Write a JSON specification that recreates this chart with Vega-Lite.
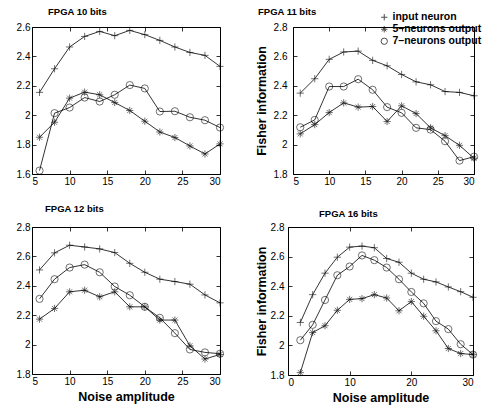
{
"$schema":"https://vega.github.io/schema/vega-lite/v6.json",
"padding":{"left":15,"top":6,"right":4,"bottom":4},
"background":"white",
"config":{
 "view":{"stroke":"black","strokeWidth":1},
 "font":"Liberation Sans",
 "axis":{"domain":false,"grid":false,"minExtent":0,"tickColor":"black","tickSize":-4,"tickWidth":0.8,"labelColor":"black","labelFont":"Liberation Sans","labelFontSize":10,"labelPadding":6,"titleFont":"Liberation Sans","titleFontSize":12.5,"titleFontWeight":"bold","titleColor":"black","titlePadding":4},
 "title":{"font":"Liberation Sans","fontSize":9.5,"fontWeight":"bold","color":"black","anchor":"start","frame":"group","offset":6}
},
"datasets":{"d":[
{"panel":"10","series":"input neuron","x":6,"y":2.155},{"panel":"10","series":"input neuron","x":8,"y":2.316},{"panel":"10","series":"input neuron","x":10,"y":2.464},{"panel":"10","series":"input neuron","x":12,"y":2.536},{"panel":"10","series":"input neuron","x":14,"y":2.57},{"panel":"10","series":"input neuron","x":16,"y":2.541},{"panel":"10","series":"input neuron","x":18,"y":2.577},{"panel":"10","series":"input neuron","x":20,"y":2.548},{"panel":"10","series":"input neuron","x":22,"y":2.509},{"panel":"10","series":"input neuron","x":24,"y":2.464},{"panel":"10","series":"input neuron","x":26,"y":2.427},{"panel":"10","series":"input neuron","x":28,"y":2.407},{"panel":"10","series":"input neuron","x":30,"y":2.332},
{"panel":"10","series":"5–neurons output","x":6,"y":1.85},{"panel":"10","series":"5–neurons output","x":8,"y":1.952},{"panel":"10","series":"5–neurons output","x":10,"y":2.116},{"panel":"10","series":"5–neurons output","x":12,"y":2.157},{"panel":"10","series":"5–neurons output","x":14,"y":2.139},{"panel":"10","series":"5–neurons output","x":16,"y":2.086},{"panel":"10","series":"5–neurons output","x":18,"y":2.032},{"panel":"10","series":"5–neurons output","x":20,"y":1.959},{"panel":"10","series":"5–neurons output","x":22,"y":1.886},{"panel":"10","series":"5–neurons output","x":24,"y":1.848},{"panel":"10","series":"5–neurons output","x":26,"y":1.791},{"panel":"10","series":"5–neurons output","x":28,"y":1.736},{"panel":"10","series":"5–neurons output","x":30,"y":1.805},
{"panel":"10","series":"7–neurons output","x":6,"y":1.623},{"panel":"10","series":"7–neurons output","x":8,"y":2.014},{"panel":"10","series":"7–neurons output","x":10,"y":2.052},{"panel":"10","series":"7–neurons output","x":12,"y":2.12},{"panel":"10","series":"7–neurons output","x":14,"y":2.093},{"panel":"10","series":"7–neurons output","x":16,"y":2.139},{"panel":"10","series":"7–neurons output","x":18,"y":2.205},{"panel":"10","series":"7–neurons output","x":20,"y":2.182},{"panel":"10","series":"7–neurons output","x":22,"y":2.025},{"panel":"10","series":"7–neurons output","x":24,"y":2.027},{"panel":"10","series":"7–neurons output","x":26,"y":1.986},{"panel":"10","series":"7–neurons output","x":28,"y":1.966},{"panel":"10","series":"7–neurons output","x":30,"y":1.916},
{"panel":"11","series":"input neuron","x":6,"y":2.35},{"panel":"11","series":"input neuron","x":8,"y":2.448},{"panel":"11","series":"input neuron","x":10,"y":2.58},{"panel":"11","series":"input neuron","x":12,"y":2.63},{"panel":"11","series":"input neuron","x":14,"y":2.636},{"panel":"11","series":"input neuron","x":16,"y":2.573},{"panel":"11","series":"input neuron","x":18,"y":2.536},{"panel":"11","series":"input neuron","x":20,"y":2.477},{"panel":"11","series":"input neuron","x":22,"y":2.427},{"panel":"11","series":"input neuron","x":24,"y":2.407},{"panel":"11","series":"input neuron","x":26,"y":2.361},{"panel":"11","series":"input neuron","x":28,"y":2.355},{"panel":"11","series":"input neuron","x":30,"y":2.332},
{"panel":"11","series":"5–neurons output","x":6,"y":2.073},{"panel":"11","series":"5–neurons output","x":8,"y":2.136},{"panel":"11","series":"5–neurons output","x":10,"y":2.218},{"panel":"11","series":"5–neurons output","x":12,"y":2.284},{"panel":"11","series":"5–neurons output","x":14,"y":2.255},{"panel":"11","series":"5–neurons output","x":16,"y":2.259},{"panel":"11","series":"5–neurons output","x":18,"y":2.157},{"panel":"11","series":"5–neurons output","x":20,"y":2.264},{"panel":"11","series":"5–neurons output","x":22,"y":2.211},{"panel":"11","series":"5–neurons output","x":24,"y":2.114},{"panel":"11","series":"5–neurons output","x":26,"y":2.061},{"panel":"11","series":"5–neurons output","x":28,"y":1.995},{"panel":"11","series":"5–neurons output","x":30,"y":1.907},
{"panel":"11","series":"7–neurons output","x":6,"y":2.118},{"panel":"11","series":"7–neurons output","x":8,"y":2.168},{"panel":"11","series":"7–neurons output","x":10,"y":2.395},{"panel":"11","series":"7–neurons output","x":12,"y":2.395},{"panel":"11","series":"7–neurons output","x":14,"y":2.445},{"panel":"11","series":"7–neurons output","x":16,"y":2.373},{"panel":"11","series":"7–neurons output","x":18,"y":2.255},{"panel":"11","series":"7–neurons output","x":20,"y":2.216},{"panel":"11","series":"7–neurons output","x":22,"y":2.114},{"panel":"11","series":"7–neurons output","x":24,"y":2.102},{"panel":"11","series":"7–neurons output","x":26,"y":2.023},{"panel":"11","series":"7–neurons output","x":28,"y":1.891},{"panel":"11","series":"7–neurons output","x":30,"y":1.918},
{"panel":"12","series":"input neuron","x":6,"y":2.508},{"panel":"12","series":"input neuron","x":8,"y":2.624},{"panel":"12","series":"input neuron","x":10,"y":2.676},{"panel":"12","series":"input neuron","x":12,"y":2.664},{"panel":"12","series":"input neuron","x":14,"y":2.651},{"panel":"12","series":"input neuron","x":16,"y":2.626},{"panel":"12","series":"input neuron","x":18,"y":2.553},{"panel":"12","series":"input neuron","x":20,"y":2.492},{"panel":"12","series":"input neuron","x":22,"y":2.445},{"panel":"12","series":"input neuron","x":24,"y":2.429},{"panel":"12","series":"input neuron","x":26,"y":2.411},{"panel":"12","series":"input neuron","x":28,"y":2.338},{"panel":"12","series":"input neuron","x":30,"y":2.284},
{"panel":"12","series":"5–neurons output","x":6,"y":2.173},{"panel":"12","series":"5–neurons output","x":8,"y":2.246},{"panel":"12","series":"5–neurons output","x":10,"y":2.359},{"panel":"12","series":"5–neurons output","x":12,"y":2.37},{"panel":"12","series":"5–neurons output","x":14,"y":2.325},{"panel":"12","series":"5–neurons output","x":16,"y":2.359},{"panel":"12","series":"5–neurons output","x":18,"y":2.257},{"panel":"12","series":"5–neurons output","x":20,"y":2.257},{"panel":"12","series":"5–neurons output","x":22,"y":2.167},{"panel":"12","series":"5–neurons output","x":24,"y":2.167},{"panel":"12","series":"5–neurons output","x":26,"y":1.992},{"panel":"12","series":"5–neurons output","x":28,"y":1.902},{"panel":"12","series":"5–neurons output","x":30,"y":1.933},
{"panel":"12","series":"7–neurons output","x":6,"y":2.311},{"panel":"12","series":"7–neurons output","x":8,"y":2.445},{"panel":"12","series":"7–neurons output","x":10,"y":2.524},{"panel":"12","series":"7–neurons output","x":12,"y":2.544},{"panel":"12","series":"7–neurons output","x":14,"y":2.492},{"panel":"12","series":"7–neurons output","x":16,"y":2.395},{"panel":"12","series":"7–neurons output","x":18,"y":2.336},{"panel":"12","series":"7–neurons output","x":20,"y":2.257},{"panel":"12","series":"7–neurons output","x":22,"y":2.182},{"panel":"12","series":"7–neurons output","x":24,"y":2.078},{"panel":"12","series":"7–neurons output","x":26,"y":1.967},{"panel":"12","series":"7–neurons output","x":28,"y":1.947},{"panel":"12","series":"7–neurons output","x":30,"y":1.938},
{"panel":"16","series":"input neuron","x":2,"y":2.155},{"panel":"16","series":"input neuron","x":4,"y":2.343},{"panel":"16","series":"input neuron","x":6,"y":2.488},{"panel":"16","series":"input neuron","x":8,"y":2.596},{"panel":"16","series":"input neuron","x":10,"y":2.664},{"panel":"16","series":"input neuron","x":12,"y":2.671},{"panel":"16","series":"input neuron","x":14,"y":2.66},{"panel":"16","series":"input neuron","x":16,"y":2.587},{"panel":"16","series":"input neuron","x":18,"y":2.562},{"panel":"16","series":"input neuron","x":20,"y":2.488},{"panel":"16","series":"input neuron","x":22,"y":2.447},{"panel":"16","series":"input neuron","x":24,"y":2.429},{"panel":"16","series":"input neuron","x":26,"y":2.395},{"panel":"16","series":"input neuron","x":28,"y":2.363},{"panel":"16","series":"input neuron","x":30,"y":2.325},
{"panel":"16","series":"5–neurons output","x":2,"y":1.816},{"panel":"16","series":"5–neurons output","x":4,"y":2.087},{"panel":"16","series":"5–neurons output","x":6,"y":2.133},{"panel":"16","series":"5–neurons output","x":8,"y":2.237},{"panel":"16","series":"5–neurons output","x":10,"y":2.311},{"panel":"16","series":"5–neurons output","x":12,"y":2.316},{"panel":"16","series":"5–neurons output","x":14,"y":2.343},{"panel":"16","series":"5–neurons output","x":16,"y":2.32},{"panel":"16","series":"5–neurons output","x":18,"y":2.234},{"panel":"16","series":"5–neurons output","x":20,"y":2.296},{"panel":"16","series":"5–neurons output","x":22,"y":2.197},{"panel":"16","series":"5–neurons output","x":24,"y":2.099},{"panel":"16","series":"5–neurons output","x":26,"y":1.979},{"panel":"16","series":"5–neurons output","x":28,"y":1.945},{"panel":"16","series":"5–neurons output","x":30,"y":1.938},
{"panel":"16","series":"7–neurons output","x":2,"y":2.035},{"panel":"16","series":"7–neurons output","x":4,"y":2.139},{"panel":"16","series":"7–neurons output","x":6,"y":2.307},{"panel":"16","series":"7–neurons output","x":8,"y":2.474},{"panel":"16","series":"7–neurons output","x":10,"y":2.533},{"panel":"16","series":"7–neurons output","x":12,"y":2.608},{"panel":"16","series":"7–neurons output","x":14,"y":2.576},{"panel":"16","series":"7–neurons output","x":16,"y":2.526},{"panel":"16","series":"7–neurons output","x":18,"y":2.447},{"panel":"16","series":"7–neurons output","x":20,"y":2.361},{"panel":"16","series":"7–neurons output","x":22,"y":2.284},{"panel":"16","series":"7–neurons output","x":24,"y":2.164},{"panel":"16","series":"7–neurons output","x":26,"y":2.11},{"panel":"16","series":"7–neurons output","x":28,"y":2.008},{"panel":"16","series":"7–neurons output","x":30,"y":1.938}
]},
"data":{"name":"d"},
"resolve":{"scale":{"shape":"independent"},"legend":{"shape":"independent"}},
"spacing":16,
"vconcat":[
 {"hconcat":[
  {"width":188,"height":147,
   "title":{"text":"FPGA 10 bits","dx":16,"offset":6},
   "transform":[{"filter":"datum.panel==='10'"}],
   "layer":[
    {"mark":{"type":"line","color":"black","strokeWidth":0.8},
     "encoding":{"x":{"field":"x","type":"quantitative","scale":{"domain":[5,30]},"axis":{"values":[5,10,15,20,25,30],"title":null}},
      "y":{"field":"y","type":"quantitative","scale":{"domain":[1.6,2.6]},"axis":{"values":[1.6,1.8,2,2.2,2.4,2.6],"format":".1~f","title":null}},
      "detail":{"field":"series"}}},
    {"mark":{"type":"point","filled":false,"color":"black","strokeWidth":0.8,"size":52},
     "encoding":{"x":{"field":"x","type":"quantitative","scale":{"domain":[5,30]},"axis":{"orient":"top","labels":false,"title":null,"values":[5,10,15,20,25,30]}},
      "y":{"field":"y","type":"quantitative","scale":{"domain":[1.6,2.6]},"axis":{"orient":"right","labels":false,"title":null,"values":[1.6,1.8,2,2.2,2.4,2.6]}},
      "shape":{"field":"series","type":"nominal","scale":{"domain":["input neuron","5–neurons output","7–neurons output"],"range":["M-1,0L1,0M0,-1L0,1","M-1,0L1,0M0,-1L0,1M-0.7,-0.7L0.7,0.7M-0.7,0.7L0.7,-0.7","circle"]},"legend":null}}}
   ],
   "resolve":{"axis":{"x":"independent","y":"independent"}}},
  {"width":181,"height":147,
   "title":{"text":"FPGA 11 bits","dx":-35,"offset":-4.5},
   "transform":[{"filter":"datum.panel==='11'"}],
   "layer":[
    {"mark":{"type":"line","color":"black","strokeWidth":0.8},
     "encoding":{"x":{"field":"x","type":"quantitative","scale":{"domain":[5,30]},"axis":{"values":[5,10,15,20,25,30],"title":null}},
      "y":{"field":"y","type":"quantitative","scale":{"domain":[1.8,2.8]},"axis":{"values":[1.8,2,2.2,2.4,2.6,2.8],"format":".1~f","title":"Fisher information","labelPadding":10,"titlePadding":5}},
      "detail":{"field":"series"}}},
    {"mark":{"type":"point","filled":false,"color":"black","strokeWidth":0.8,"size":52},
     "encoding":{"x":{"field":"x","type":"quantitative","scale":{"domain":[5,30]},"axis":{"orient":"top","labels":false,"title":null,"values":[5,10,15,20,25,30]}},
      "y":{"field":"y","type":"quantitative","scale":{"domain":[1.8,2.8]},"axis":{"orient":"right","labels":false,"title":null,"values":[1.8,2,2.2,2.4,2.6,2.8]}},
      "shape":{"field":"series","type":"nominal","scale":{"domain":["input neuron","5–neurons output","7–neurons output"],"range":["M-1,0L1,0M0,-1L0,1","M-1,0L1,0M0,-1L0,1M-0.7,-0.7L0.7,0.7M-0.7,0.7L0.7,-0.7","circle"]},
       "legend":{"orient":"none","legendX":86,"legendY":-15,"title":null,"labelFont":"Liberation Sans","labelFontSize":10.5,"labelFontWeight":"bold","labelColor":"black","symbolStrokeColor":"black","symbolFillColor":"transparent","symbolStrokeWidth":1,"symbolSize":40,"rowPadding":1,"labelOffset":3,"padding":0}}}}
   ],
   "resolve":{"axis":{"x":"independent","y":"independent"}}}
 ],"spacing":28,"resolve":{"scale":{"shape":"independent"},"legend":{"shape":"independent"}}},
 {"hconcat":[
  {"width":188,"height":147,
   "title":{"text":"FPGA 12 bits","dx":13,"offset":9},
   "transform":[{"filter":"datum.panel==='12'"}],
   "layer":[
    {"mark":{"type":"line","color":"black","strokeWidth":0.8},
     "encoding":{"x":{"field":"x","type":"quantitative","scale":{"domain":[5,30]},"axis":{"values":[5,10,15,20,25,30],"title":"Noise amplitude"}},
      "y":{"field":"y","type":"quantitative","scale":{"domain":[1.8,2.8]},"axis":{"values":[1.8,2,2.2,2.4,2.6,2.8],"format":".1~f","title":null}},
      "detail":{"field":"series"}}},
    {"mark":{"type":"point","filled":false,"color":"black","strokeWidth":0.8,"size":52},
     "encoding":{"x":{"field":"x","type":"quantitative","scale":{"domain":[5,30]},"axis":{"orient":"top","labels":false,"title":null,"values":[5,10,15,20,25,30]}},
      "y":{"field":"y","type":"quantitative","scale":{"domain":[1.8,2.8]},"axis":{"orient":"right","labels":false,"title":null,"values":[1.8,2,2.2,2.4,2.6,2.8]}},
      "shape":{"field":"series","type":"nominal","scale":{"domain":["input neuron","5–neurons output","7–neurons output"],"range":["M-1,0L1,0M0,-1L0,1","M-1,0L1,0M0,-1L0,1M-0.7,-0.7L0.7,0.7M-0.7,0.7L0.7,-0.7","circle"]},"legend":null}}}
   ],
   "resolve":{"axis":{"x":"independent","y":"independent"}}},
  {"width":185,"height":148,
   "title":{"text":"FPGA 16 bits","dx":31,"offset":4},
   "transform":[{"filter":"datum.panel==='16'"}],
   "layer":[
    {"mark":{"type":"line","color":"black","strokeWidth":0.8},
     "encoding":{"x":{"field":"x","type":"quantitative","scale":{"domain":[0,30]},"axis":{"values":[0,10,20,30],"title":"Noise amplitude"}},
      "y":{"field":"y","type":"quantitative","scale":{"domain":[1.8,2.8]},"axis":{"values":[1.8,2,2.2,2.4,2.6,2.8],"format":".1~f","title":"Fisher information","labelPadding":8,"titlePadding":2}},
      "detail":{"field":"series"}}},
    {"mark":{"type":"point","filled":false,"color":"black","strokeWidth":0.8,"size":52},
     "encoding":{"x":{"field":"x","type":"quantitative","scale":{"domain":[0,30]},"axis":{"orient":"top","labels":false,"title":null,"values":[0,10,20,30]}},
      "y":{"field":"y","type":"quantitative","scale":{"domain":[1.8,2.8]},"axis":{"orient":"right","labels":false,"title":null,"values":[1.8,2,2.2,2.4,2.6,2.8]}},
      "shape":{"field":"series","type":"nominal","scale":{"domain":["input neuron","5–neurons output","7–neurons output"],"range":["M-1,0L1,0M0,-1L0,1","M-1,0L1,0M0,-1L0,1M-0.7,-0.7L0.7,0.7M-0.7,0.7L0.7,-0.7","circle"]},"legend":null}}}
   ],
   "resolve":{"axis":{"x":"independent","y":"independent"}}}
 ],"spacing":28,"resolve":{"scale":{"shape":"independent"},"legend":{"shape":"independent"}}}
]
}
